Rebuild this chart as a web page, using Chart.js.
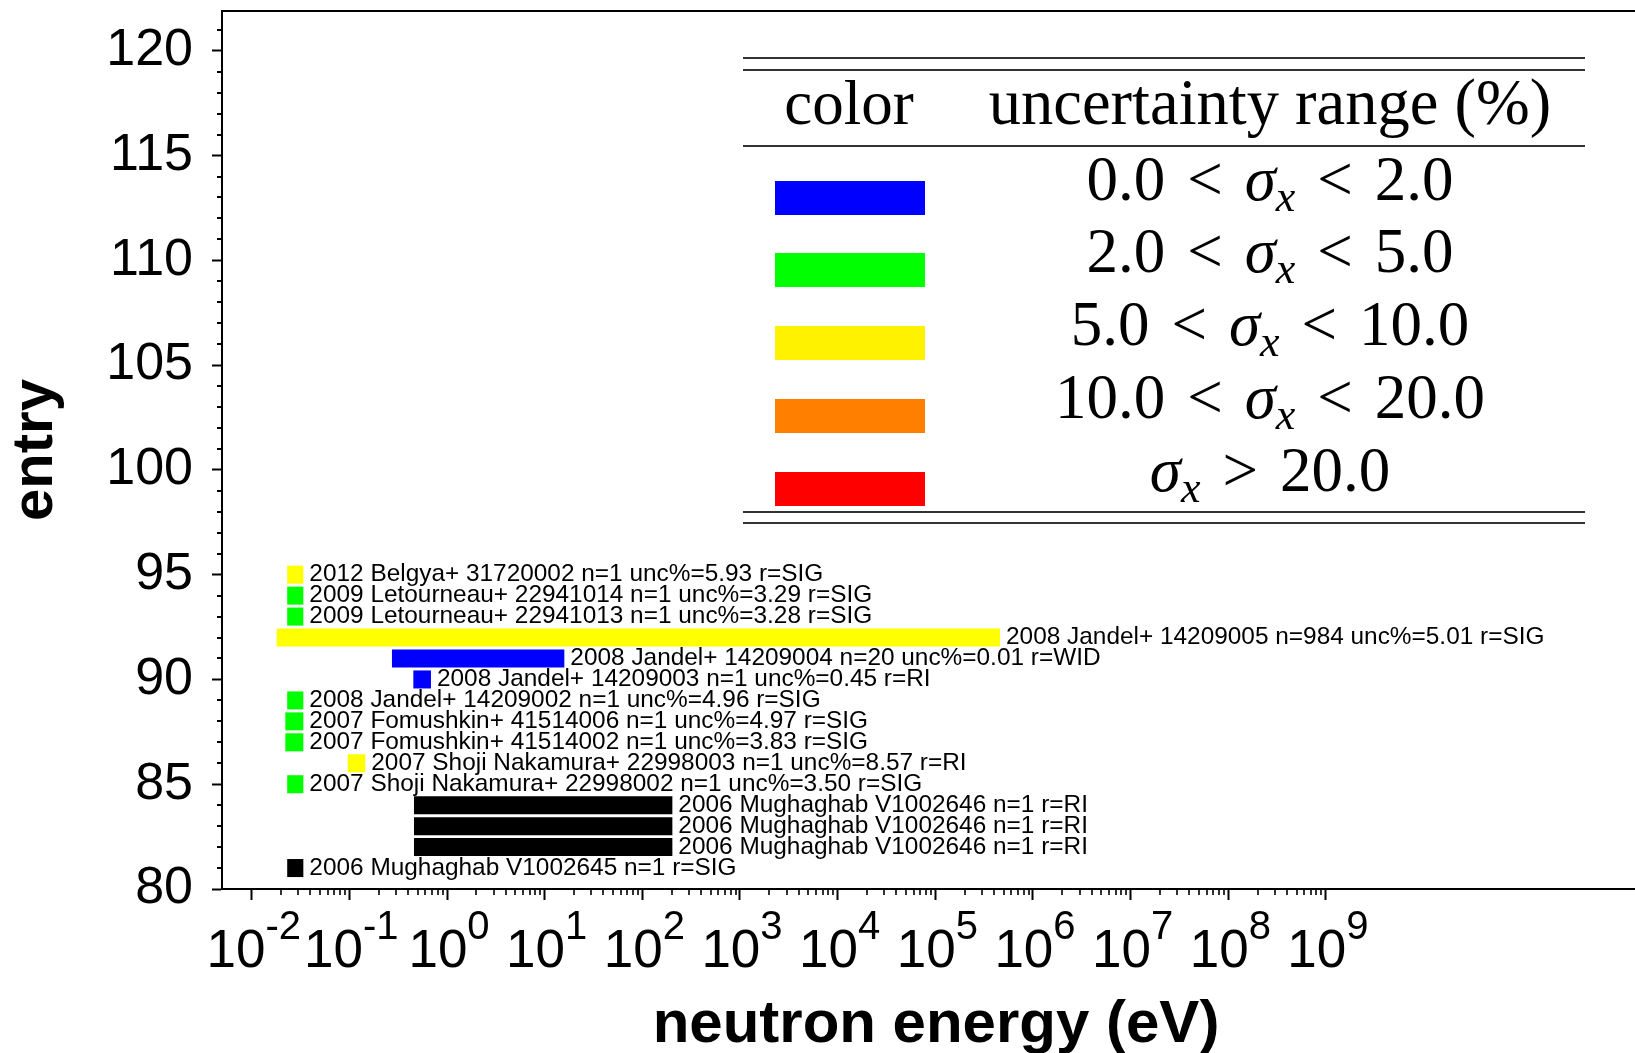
<!DOCTYPE html>
<html>
<head>
<meta charset="utf-8">
<script src="https://cdn.jsdelivr.net/npm/chart.js@4.4.0/dist/chart.umd.min.js"></script>
<style>
html,body{margin:0;padding:0;background:#fff;overflow:hidden;}
canvas{display:block;}
</style>
</head>
<body>
<canvas id="c" width="1650" height="1053" style="width:1650px;height:1053px"></canvas>
<script>
// ---------------- data ----------------
const entryIds = [95, 94, 93, 92, 91, 90, 89, 88, 87, 86, 85, 84, 83, 82, 81];
const entryLabels = [
  '2012 Belgya+ 31720002 n=1 unc%=5.93 r=SIG',
  '2009 Letourneau+ 22941014 n=1 unc%=3.29 r=SIG',
  '2009 Letourneau+ 22941013 n=1 unc%=3.28 r=SIG',
  '2008 Jandel+ 14209005 n=984 unc%=5.01 r=SIG',
  '2008 Jandel+ 14209004 n=20 unc%=0.01 r=WID',
  '2008 Jandel+ 14209003 n=1 unc%=0.45 r=RI',
  '2008 Jandel+ 14209002 n=1 unc%=4.96 r=SIG',
  '2007 Fomushkin+ 41514006 n=1 unc%=4.97 r=SIG',
  '2007 Fomushkin+ 41514002 n=1 unc%=3.83 r=SIG',
  '2007 Shoji Nakamura+ 22998003 n=1 unc%=8.57 r=RI',
  '2007 Shoji Nakamura+ 22998002 n=1 unc%=3.50 r=SIG',
  '2006 Mughaghab V1002646 n=1 r=RI',
  '2006 Mughaghab V1002646 n=1 r=RI',
  '2006 Mughaghab V1002646 n=1 r=RI',
  '2006 Mughaghab V1002645 n=1 r=SIG'
];
const energyLow  = [0.0231, 0.0231, 0.0231, 0.0180, 0.273, 0.452, 0.0231, 0.0221, 0.0221, 0.0962, 0.0231, 0.459, 0.459, 0.459, 0.0231];
const energyHigh = [0.0338, 0.0338, 0.0338, 4.6e5, 15.9, 0.685, 0.0338, 0.0338, 0.0338, 0.1456, 0.0338, 203, 203, 203, 0.0338];
const uncPercent = [5.93, 3.29, 3.28, 5.01, 0.01, 0.45, 4.96, 4.97, 3.83, 8.57, 3.50, null, null, null, null];

const xTickExponents = [-2, -1, 0, 1, 2, 3, 4, 5, 6, 7, 8, 9];
const yTickValues = [80, 85, 90, 95, 100, 105, 110, 115, 120];

const uncBounds = ['0.0', '2.0', '5.0', '10.0', '20.0'];
const uncThresholds = [2, 5, 10, 20];
const barColors = ['#0000ff', '#00ff00', '#ffff00', '#ff8000', '#ff0000'];
const legendColors = ['#0000ff', '#00ff00', '#fff200', '#ff8000', '#ff0000'];
const noUncColor = '#000000';

// ---------------- helpers ----------------
function colorFor(u) {
  if (u === null || u === undefined) return noUncColor;
  let i = uncThresholds.findIndex(t => u < t);
  if (i < 0) i = uncThresholds.length;
  return barColors[i];
}

const SANS = '"Liberation Sans", Arial, sans-serif';
const SERIF = '"Liberation Serif", "Times New Roman", serif';

const decoPlugin = {
  id: 'deco',
  afterDatasetsDraw(chart) {
    const ctx = chart.ctx;
    const meta = chart.getDatasetMeta(0);
    ctx.save();
    ctx.fillStyle = '#000';
    ctx.font = '24.4px ' + SANS;
    ctx.textAlign = 'left';
    ctx.textBaseline = 'middle';
    meta.data.forEach((el, i) => {
      const xEnd = Math.max(el.x, el.base);
      ctx.fillText(entryLabels[i], xEnd + 6, el.y);
    });
    ctx.restore();
  },
  afterDraw(chart) {
    const ctx = chart.ctx;
    const xs = chart.scales.x, ys = chart.scales.y;
    const area = chart.chartArea;
    ctx.save();
    ctx.strokeStyle = '#000';
    ctx.lineWidth = 2;
    // top frame line
    ctx.beginPath();
    ctx.moveTo(area.left - 1, area.top);
    ctx.lineTo(chart.width, area.top);
    ctx.stroke();
    // y minor ticks
    ctx.beginPath();
    for (let v = Math.ceil(ys.min); v <= ys.max; v++) {
      if (yTickValues.includes(v)) continue;
      const py = Math.round(ys.getPixelForValue(v));
      ctx.moveTo(area.left - 5, py);
      ctx.lineTo(area.left, py);
    }
    ctx.stroke();
    // x minor ticks
    ctx.lineWidth = 1.6;
    ctx.beginPath();
    const e0 = xTickExponents[0], e1 = xTickExponents[xTickExponents.length - 1];
    for (let e = e0; e < e1; e++) {
      for (let m = 2; m <= 9; m++) {
        const px = Math.round(xs.getPixelForValue(m * Math.pow(10, e)));
        ctx.moveTo(px, area.bottom);
        ctx.lineTo(px, area.bottom + 6);
      }
    }
    ctx.stroke();
    // x tick labels 10^n
    ctx.fillStyle = '#000';
    ctx.textBaseline = 'alphabetic';
    ctx.textAlign = 'left';
    const baseFont = '53px ' + SANS, expFont = '40px ' + SANS;
    xTickExponents.forEach(e => {
      const px = xs.getPixelForValue(Math.pow(10, e));
      ctx.font = baseFont;
      const wb = ctx.measureText('10').width;
      ctx.font = expFont;
      const et = String(e);
      const we = ctx.measureText(et).width;
      const x0 = px - (wb + we) / 2 + 2;
      ctx.font = baseFont;
      ctx.fillText('10', x0, 967);
      ctx.font = expFont;
      ctx.fillText(et, x0 + wb, 939);
    });

    // ---------- uncertainty table ----------
    const tL = 743, tR = 1585;
    ctx.strokeStyle = '#333';
    ctx.lineWidth = 2;
    [58, 70, 146, 512, 523].forEach(y => {
      ctx.beginPath(); ctx.moveTo(tL, y); ctx.lineTo(tR, y); ctx.stroke();
    });
    ctx.fillStyle = '#000';
    ctx.textAlign = 'center';
    ctx.font = '63px ' + SERIF;
    ctx.fillText('color', 849, 124);
    ctx.font = '64.5px ' + SERIF;
    ctx.fillText('uncertainty range (%)', 1270, 124);
    const rowCenters = [198, 270, 343, 416, 489];
    const up = '63px ' + SERIF, it = 'italic 63px ' + SERIF, sub = 'italic 44px ' + SERIF;
    const gap = 22;
    ctx.textAlign = 'left';
    rowCenters.forEach((cy, i) => {
      ctx.fillStyle = legendColors[i];
      ctx.fillRect(775, cy - 17, 150, 34);
      let parts;
      if (i < uncBounds.length - 1) {
        parts = [
          {t: uncBounds[i], f: up, dy: 0, g: gap},
          {t: '<', f: up, dy: 0, g: gap},
          {t: 'σ', f: it, dy: 0, g: 0},
          {t: 'x', f: sub, dy: 11, g: gap},
          {t: '<', f: up, dy: 0, g: gap},
          {t: uncBounds[i + 1], f: up, dy: 0, g: 0}
        ];
      } else {
        parts = [
          {t: 'σ', f: it, dy: 0, g: 0},
          {t: 'x', f: sub, dy: 11, g: gap},
          {t: '>', f: up, dy: 0, g: gap},
          {t: uncBounds[i], f: up, dy: 0, g: 0}
        ];
      }
      let total = 0;
      parts.forEach(p => { ctx.font = p.f; p.w = ctx.measureText(p.t).width; total += p.w + p.g; });
      let x = 1270 - total / 2;
      ctx.fillStyle = '#000';
      parts.forEach(p => { ctx.font = p.f; ctx.fillText(p.t, x, cy + 2 + p.dy); x += p.w + p.g; });
    });
    ctx.restore();
  }
};

const chart = new Chart(document.getElementById('c'), {
  type: 'bar',
  data: {
    datasets: [{
      label: 'entries',
      data: entryIds.map((y, i) => ({x: [energyLow[i], energyHigh[i]], y: y})),
      backgroundColor: uncPercent.map(colorFor),
      borderWidth: 0,
      barPercentage: 0.86,
      categoryPercentage: 1.0
    }]
  },
  options: {
    indexAxis: 'y',
    responsive: false,
    animation: false,
    devicePixelRatio: 1,
    layout: {padding: {top: 11, left: 0, right: 0, bottom: 0}},
    plugins: {legend: {display: false}, tooltip: {enabled: false}, title: {display: false}},
    scales: {
      x: {
        type: 'logarithmic',
        position: 'bottom',
        offset: false,
        min: Math.pow(10, -2.304),
        max: Math.pow(10, 12.318),
        afterBuildTicks: s => { s.ticks = xTickExponents.map(e => ({value: Math.pow(10, e), major: true})); },
        afterFit: s => { s.height = 164; s.paddingLeft = 0; s.paddingRight = 0; },
        ticks: {display: false},
        grid: {offset: false, drawOnChartArea: false, drawTicks: true, tickLength: 11, tickWidth: 2, tickColor: '#000'},
        border: {display: true, color: '#000', width: 2},
        title: {
          display: true, text: 'neutron energy (eV)', color: '#000',
          font: {family: SANS, size: 60, weight: 'bold', lineHeight: 1},
          padding: {top: 0, bottom: -2}
        }
      },
      y: {
        type: 'linear',
        position: 'left',
        offset: false,
        min: 80,
        max: 121.9,
        afterBuildTicks: s => { s.ticks = yTickValues.map(v => ({value: v})); },
        afterFit: s => { s.width = 222; s.paddingTop = 0; s.paddingBottom = 0; },
        ticks: {autoSkip: false, padding: 19, color: '#000', font: {family: SANS, size: 52}},
        grid: {offset: false, drawOnChartArea: false, drawTicks: true, tickLength: 10, tickWidth: 2, tickColor: '#000'},
        border: {display: true, color: '#000', width: 2},
        title: {
          display: true, text: 'entry', color: '#000',
          font: {family: SANS, size: 58, weight: 'bold', lineHeight: 1},
          padding: {top: 7, bottom: 0}
        }
      }
    }
  },
  plugins: [decoPlugin]
});
</script>
</body>
</html>
